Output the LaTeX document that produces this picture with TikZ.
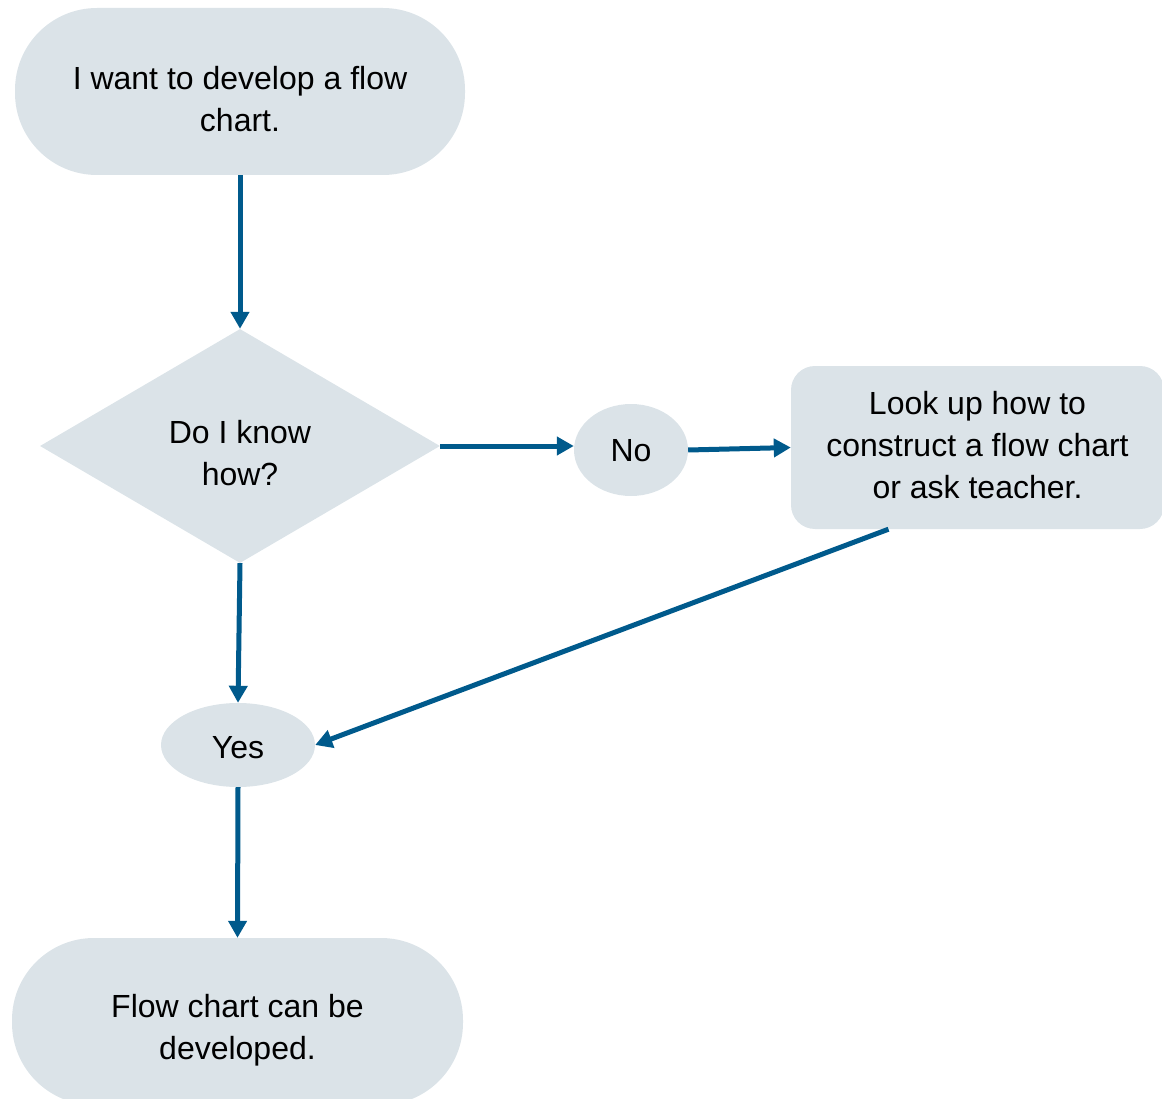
\documentclass[tikz,border=0pt]{standalone}
\usepackage{fontspec}
\setmainfont{Liberation Sans}
\usetikzlibrary{shapes.geometric,arrows.meta}
\definecolor{boxfill}{HTML}{DBE3E8}
\definecolor{arrowc}{HTML}{005A8C}
\begin{document}
\begin{tikzpicture}[x=1pt,y=-1pt,
  every node/.style={font=\fontsize{32}{42}\selectfont, align=center, inner sep=0pt},
  stadium/.style={rectangle, fill=boxfill, rounded corners=82pt, minimum width=450pt, minimum height=167pt},
  procbox/.style={rectangle, fill=boxfill, rounded corners=24pt, minimum width=373pt, minimum height=163pt},
  decision/.style={diamond, fill=boxfill, minimum width=400pt, minimum height=234pt},
  oval/.style={ellipse, fill=boxfill},
  arr/.style={draw=arrowc, line width=5pt, -{Triangle[length=17pt,width=18pt]}}
]
\useasboundingbox (0,0) rectangle (1162,1099);
\clip (0,0) rectangle (1162,1099);
\node[stadium, label={[yshift=-8pt]center:I want to develop a flow\\chart.}] (start) at (240,91.5) {};
\node[decision, label={[yshift=-7pt]center:Do I know\\how?}] (dia) at (240,446) {};
\node[oval, minimum width=114pt, minimum height=92pt, label={[yshift=-1pt]center:No}] (no) at (631,450) {};
\node[procbox, label={[yshift=2pt]center:Look up how to\\construct a flow chart\\or ask teacher.}] (box) at (977.5,447.5) {};
\node[oval, minimum width=154pt, minimum height=84pt, label={[yshift=-3pt]center:Yes}] (yes) at (238,745) {};
\node[stadium, minimum width=451pt, label={[yshift=-9pt]center:Flow chart can be\\developed.}] (end) at (237.5,1021.5) {};
\draw[arr] (start.south) -- (dia.north);
\draw[arr] (dia.east) -- (dia.east -| no.west);
\draw[arr] (no.east) -- (box.west);
\draw[arr] ([xshift=-89pt]box.south) -- (yes.east);
\draw[arr] (dia.south) -- (yes.north);
\draw[arr] (yes.south) -- (end.north);
\end{tikzpicture}
\end{document}
